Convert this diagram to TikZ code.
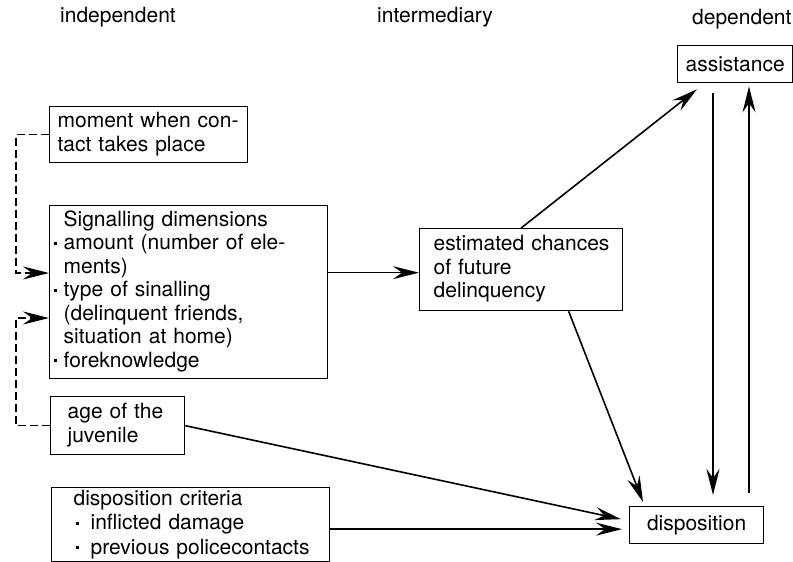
\documentclass[tikz,border=0pt]{standalone}
\usepackage{fontspec}
\setmainfont{TeX Gyre Heros}
\usetikzlibrary{arrows.meta,calc}
% one unbreakable line per row
\newcommand{\lines}[1]{\begin{tabular}{@{}l@{}}#1\end{tabular}}
% small square list dot, and the same dot hung in the left margin
\newcommand{\sqdot}{\raisebox{5pt}{\rule{3pt}{3pt}}}
\newcommand{\hangdot}{\llap{\sqdot\hspace{7pt}}}
\begin{document}
\begin{tikzpicture}[x=1pt,y=-1pt,
  every node/.style={font=\fontsize{21}{23.5}\selectfont},
  box/.style={draw, line width=1.3pt, anchor=north west, inner ysep=0pt, align=left},
  cbox/.style={draw, line width=1.3pt, anchor=north west, inner sep=0pt, align=center},
  head/.style={anchor=base west, inner sep=0pt},
  link/.style={line width=1.6pt, -{Stealth[length=26pt,width=13pt,inset=9pt]}},
  dlink/.style={link, dash pattern=on 8pt off 4pt},
]
\useasboundingbox (0,0) rectangle (793,562);

% column headings
\node[head] (hind) at (60,22) {independent};
\node[head] (hint) at (377,22) {intermediary};
\node[head] (hdep) at (692,24) {dependent};

% independent variables
\node[box, inner xsep=8pt, text width=182pt, minimum height=56pt] (moment) at (49,106)
  {\lines{moment when con-\\tact takes place}};
\node[box, inner xsep=14pt, text width=250pt, minimum height=173pt] (sig) at (49,205)
  {\lines{Signalling dimensions\\
   \hangdot amount (number of ele-\\
   ments)\\
   \hangdot type of sinalling\\
   (delinquent friends,\\
   situation at home)\\
   \hangdot foreknowledge}};
\node[box, inner xsep=17pt, text width=100pt, minimum height=58pt] (age) at (50,396)
  {\lines{age of the\\juvenile}};
\node[box, inner xsep=22pt, text width=234pt, minimum height=74pt,
      font=\fontsize{21}{24.5}\selectfont] (crit) at (51,487)
  {\lines{disposition criteria\\
   \hspace{2pt}\sqdot\hspace{12pt}inflicted damage\\
   \hspace{2pt}\sqdot\hspace{12pt}previous policecontacts}};

% intermediary and dependent variables
\node[box, inner xsep=14pt, text width=175pt, minimum height=82pt] (est) at (419,228)
  {\lines{estimated chances\\of future\\delinquency}};
\node[cbox, minimum width=115pt, minimum height=37pt] (assist) at (677,45) {assistance};
\node[cbox, minimum width=134pt, minimum height=37pt] (disp) at (629,506) {disposition};

% dashed feeds into the signalling box
\coordinate (ja) at (16,273);
\coordinate (jb) at (16,318);
\draw[dlink] (moment.west) -| (ja) -- (ja -| sig.west);
\draw[dlink] (age.west) -| (jb) -- (jb -| sig.west);

% solid connectors
\coordinate (ea) at ($(est.west)+(0,3)$);
\draw[link] (sig.east |- ea) -- (ea);

\coordinate (ta) at ($(assist.south west)+(20,6)$);
\draw[link] (est.north) -- (ta);

\coordinate (tb) at ($(disp.north west)+(14,-4)$);
\draw[link] ([xshift=47.5pt]est.south) -- (tb);

\coordinate (tc) at ($(disp.west)+(-8,-6)$);
\draw[link] (age.east) -- (tc);

\coordinate (td) at ($(disp.west)+(-7,4)$);
\draw[link] (crit.east |- td) -- (td);

\coordinate (va) at (713,0);
\coordinate (vc) at (749,0);
\draw[link] ($(assist.south -| va)+(0,10)$) -- ($(disp.north -| va)+(0,-11)$);
\draw[link] ($(disp.north -| vc)+(0,-13)$) -- ($(assist.south -| vc)+(0,3)$);
\end{tikzpicture}
\end{document}
